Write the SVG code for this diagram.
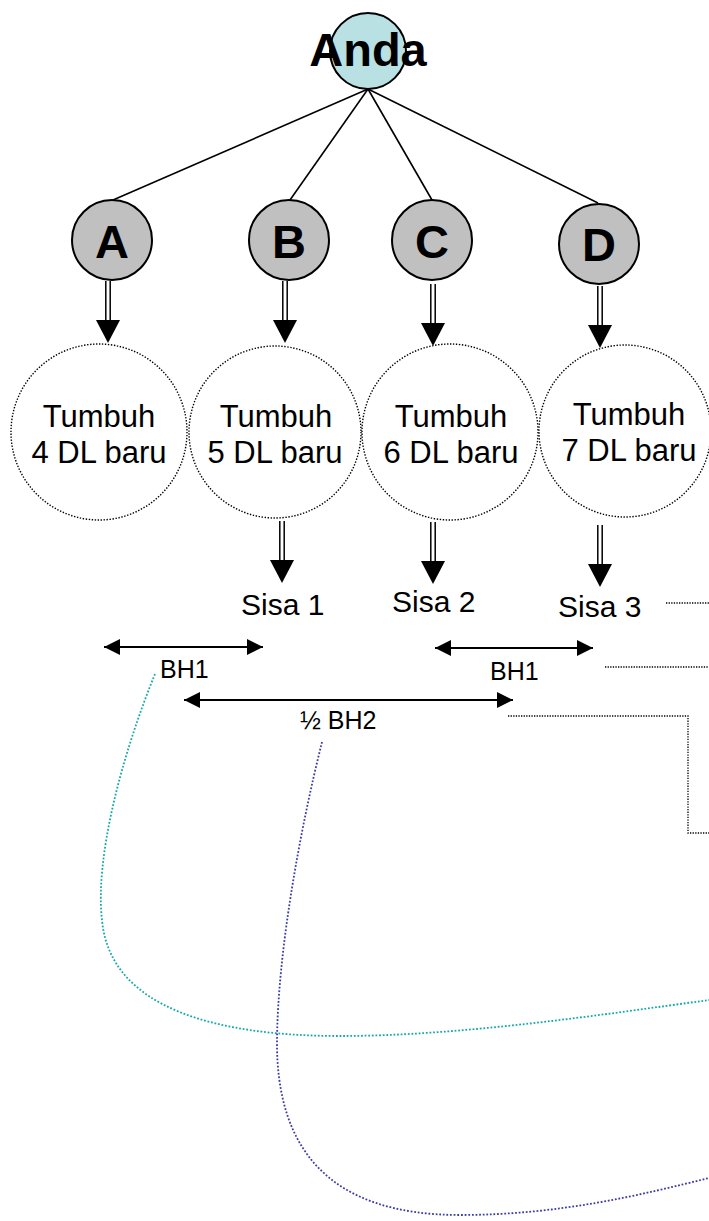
<svg xmlns="http://www.w3.org/2000/svg" width="709" height="1221" viewBox="0 0 709 1221">
<style>
  .t{font-family:"Liberation Sans",Arial,sans-serif;fill:#000}
  .big{font-size:47px;font-weight:bold;text-anchor:middle}
  .lbl{font-size:31px;text-anchor:middle}
  .sisa{font-size:30px}
  .bh{font-size:25px}
  .hub{fill:#b9e0e3;stroke:#000;stroke-width:2}
  .opt{fill:#c0c0c0;stroke:#000;stroke-width:2}
  .res{fill:#fff;stroke:#000;stroke-width:1.4;stroke-dasharray:1.4 1.6}
  .edge{stroke:#000;stroke-width:1.6;fill:none}
  .dbl{stroke:#000;stroke-width:1.5;fill:none}
  .dim{stroke:#000;stroke-width:2;fill:none;marker-start:url(#hs);marker-end:url(#he)}
  .dot{stroke:#000;stroke-width:1.3;stroke-dasharray:1.3 1.3;fill:none}
  .cy{stroke:#16a9a9;stroke-width:1.8;stroke-dasharray:1.8 1.8;fill:none}
  .pu{stroke:#3c3ca6;stroke-width:1.8;stroke-dasharray:1.8 1.8;fill:none}
</style>
<defs>
  <marker id="he" markerWidth="9" markerHeight="8" refX="8" refY="4" orient="auto" markerUnits="strokeWidth">
    <path d="M0,0 L8,4 L0,8 Z" fill="#000"/>
  </marker>
  <marker id="hs" markerWidth="9" markerHeight="8" refX="0" refY="4" orient="auto" markerUnits="strokeWidth">
    <path d="M8,0 L0,4 L8,8 Z" fill="#000"/>
  </marker>
  <g id="darrow">
    <line x1="-2.2" y1="0" x2="-2.2" y2="40" class="dbl"/>
    <line x1="2.2" y1="0" x2="2.2" y2="40" class="dbl"/>
    <path d="M-12,39 L12,39 L0,62 Z" fill="#000"/>
  </g>
</defs>

<g id="connectors">
  <line class="edge" x1="368" y1="89" x2="113" y2="200"/>
  <line class="edge" x1="368" y1="89" x2="290" y2="200"/>
  <line class="edge" x1="368" y1="89" x2="432" y2="200"/>
  <line class="edge" x1="368" y1="89" x2="598" y2="203"/>
  <use href="#darrow" x="108" y="281"/>
  <use href="#darrow" x="285" y="281"/>
  <use href="#darrow" x="433" y="284"/>
  <use href="#darrow" x="600" y="286"/>
  <use href="#darrow" x="282" y="521"/>
  <use href="#darrow" x="433" y="522"/>
  <use href="#darrow" x="600" y="525"/>
  <line class="dim" x1="104" y1="647" x2="263" y2="647"/>
  <line class="dim" x1="435" y1="648" x2="593" y2="648"/>
  <line class="dim" x1="184" y1="700" x2="513" y2="700"/>
  <line class="dot" x1="666" y1="603" x2="709" y2="603"/>
  <line class="dot" x1="605" y1="667" x2="709" y2="667"/>
  <polyline class="dot" points="508,716 688,716 688,833 709,833"/>
  <path class="cy" d="M155,674 C120,760 95,860 102,920 C110,1010 220,1036 340,1036 C460,1036 600,1015 709,1000"/>
  <path class="pu" d="M322,742 C300,830 278,950 277,1040 C276,1150 330,1215 460,1215 C560,1215 640,1195 709,1178"/>
</g>

<g id="anda">
  <circle class="hub" cx="368" cy="51" r="38"/>
  <text class="t big" x="368" y="66">Anda</text>
</g>
<g id="nodeA">
  <circle class="opt" cx="112" cy="240" r="40"/>
  <text class="t big" x="112" y="258">A</text>
</g>
<g id="nodeB">
  <circle class="opt" cx="289" cy="240" r="40"/>
  <text class="t big" x="289" y="258">B</text>
</g>
<g id="nodeC">
  <circle class="opt" cx="432" cy="240" r="40"/>
  <text class="t big" x="432" y="258">C</text>
</g>
<g id="nodeD">
  <circle class="opt" cx="599" cy="244" r="40"/>
  <text class="t big" x="599" y="261">D</text>
</g>

<g id="grow4">
  <circle class="res" cx="99" cy="432" r="88"/>
  <text class="t lbl" x="99" y="427">Tumbuh</text>
  <text class="t lbl" x="99" y="463">4 DL baru</text>
</g>
<g id="grow5">
  <circle class="res" cx="275" cy="432" r="86"/>
  <text class="t lbl" x="276" y="427">Tumbuh</text>
  <text class="t lbl" x="275" y="463">5 DL baru</text>
</g>
<g id="grow6">
  <circle class="res" cx="450" cy="432" r="88"/>
  <text class="t lbl" x="451" y="427">Tumbuh</text>
  <text class="t lbl" x="451" y="463">6 DL baru</text>
</g>
<g id="grow7">
  <circle class="res" cx="625" cy="431" r="86"/>
  <text class="t lbl" x="629" y="425">Tumbuh</text>
  <text class="t lbl" x="629" y="461">7 DL baru</text>
</g>

<g id="sisa1"><text class="t sisa" x="241" y="615">Sisa 1</text></g>
<g id="sisa2"><text class="t sisa" x="392" y="612">Sisa 2</text></g>
<g id="sisa3"><text class="t sisa" x="558" y="617">Sisa 3</text></g>

<g id="bh1a"><text class="t bh" x="160" y="678">BH1</text></g>
<g id="bh1b"><text class="t bh" x="490" y="680">BH1</text></g>
<g id="bh2"><text class="t bh" x="300" y="729">½ BH2</text></g>
</svg>
